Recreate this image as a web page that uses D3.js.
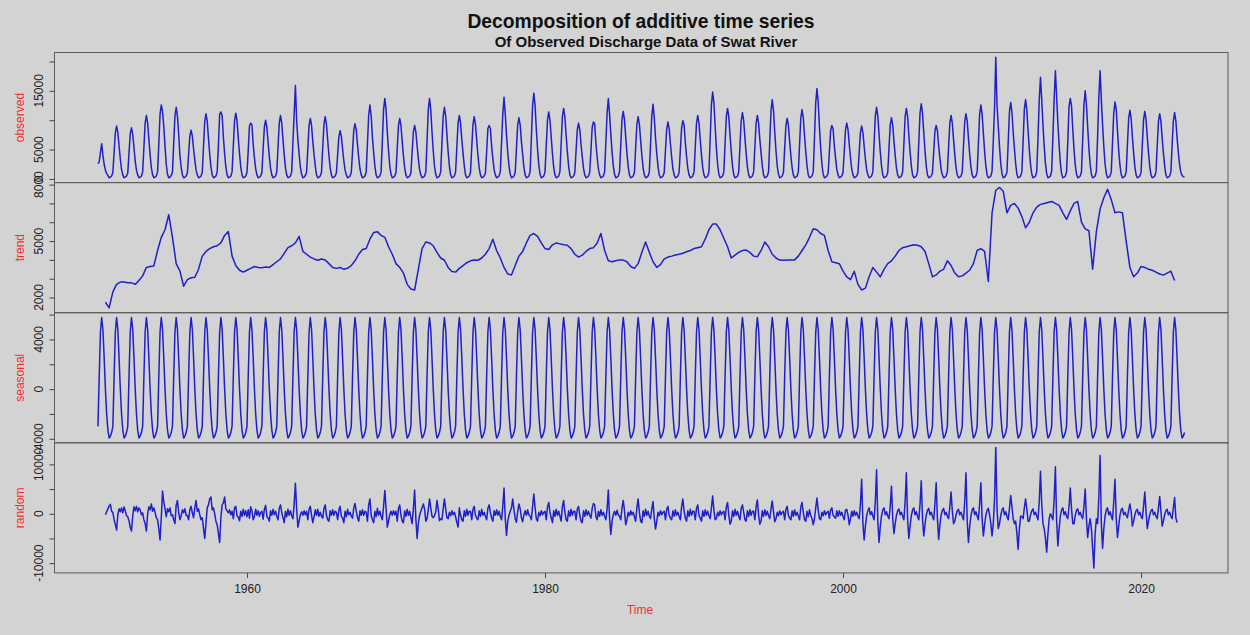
<!DOCTYPE html>
<html>
<head>
<meta charset="utf-8">
<script src="https://cdn.jsdelivr.net/npm/d3@7"></script>
<style>
body { margin: 0; background: #d3d3d3; }
svg { display: block; font-family: "Liberation Sans", Arial, sans-serif; }
</style>
</head>
<body>
<svg id="chart" width="1250" height="635"></svg>
<script>
// monthly series, start 1950, frequency 12
var startYear = 1950;
var panelNames = ["observed", "trend", "seasonal", "random"];

// seasonal figure (one cycle, repeats every year)
var seasonalFigure = [-3000, 1000, 4600, 5765, 4800, 2500, 0, -2000, -3300, -3935, -3800, -3500];

// observed discharge, one row per year, values in hundreds
var observedHundreds = [
  [26,29,45,60,40,25,15,9,6,2,3,5],
  [11,45,79,90,79,56,34,16,7,2,3,5],
  [10,44,77,87,76,54,30,15,7,2,3,5],
  [12,54,95,108,95,67,41,19,7,2,3,5],
  [12,60,110,126,115,90,55,25,8,2,3,6],
  [12,61,107,122,107,76,40,20,7,2,3,5],
  [10,42,73,83,73,51,32,15,7,2,3,5],
  [11,56,98,111,98,69,42,20,7,2,3,5],
  [12,57,110,114,108,71,43,20,7,2,3,5],
  [12,56,99,112,99,69,43,20,7,2,3,5],
  [11,48,90,95,92,59,36,17,7,2,3,5],
  [11,50,88,100,88,62,38,18,7,2,3,5],
  [12,54,95,108,95,67,41,19,7,2,3,5],
  [12,62,110,159,100,66,42,20,8,2,3,6],
  [11,52,91,103,91,64,42,22,7,2,3,5],
  [11,53,93,106,93,66,40,19,7,2,3,5],
  [10,41,72,82,72,51,31,15,7,2,3,5],
  [11,47,83,94,83,58,36,17,7,2,3,5],
  [12,60,108,126,108,72,45,22,7,2,3,5],
  [12,64,118,137,118,80,48,22,8,2,3,5],
  [11,52,91,103,91,64,39,19,7,2,3,5],
  [10,46,80,91,80,56,35,16,7,2,3,5],
  [12,64,118,137,118,80,48,22,8,2,3,5],
  [12,61,107,122,107,76,46,22,7,2,3,5],
  [12,54,95,108,95,67,44,22,7,2,3,5],
  [11,53,93,106,93,66,40,19,7,2,3,5],
  [10,46,86,91,86,56,35,16,7,2,3,5],
  [12,62,110,139,110,75,45,22,8,2,3,5],
  [11,52,92,104,92,64,42,20,7,2,3,5],
  [12,68,125,146,125,85,50,24,8,2,3,5],
  [12,57,100,114,100,71,43,20,7,2,3,5],
  [12,60,106,120,106,74,46,22,7,2,3,5],
  [11,48,84,95,84,59,38,18,7,2,3,5],
  [11,49,88,97,94,60,37,17,7,2,3,5],
  [12,62,112,137,110,76,46,22,8,2,3,5],
  [12,58,101,115,101,71,44,21,7,2,3,5],
  [11,53,93,106,93,66,40,19,7,2,3,5],
  [12,60,108,127,104,70,43,21,7,2,3,5],
  [11,49,85,97,85,60,37,17,7,2,3,5],
  [11,50,87,99,92,62,38,18,7,2,3,5],
  [12,54,95,108,95,67,41,19,7,2,3,5],
  [12,68,126,148,130,90,52,25,8,2,3,5],
  [12,60,106,120,106,74,46,22,7,2,3,5],
  [12,57,99,113,99,70,43,20,7,2,3,5],
  [12,54,95,108,95,67,44,22,7,2,3,5],
  [12,64,116,135,116,80,48,22,8,2,3,5],
  [11,52,91,103,91,64,39,19,7,2,3,5],
  [12,59,104,118,104,73,46,22,7,2,3,5],
  [12,70,130,154,130,88,52,25,8,2,3,5],
  [10,46,82,91,85,56,35,16,7,2,3,5],
  [11,48,84,95,84,59,36,17,7,2,3,5],
  [10,45,79,90,79,56,34,16,7,2,3,5],
  [12,61,107,122,107,76,46,22,7,2,3,5],
  [11,52,92,104,92,64,40,19,7,2,3,5],
  [12,60,106,120,106,74,46,22,7,2,3,5],
  [12,62,112,128,112,79,48,22,7,2,3,5],
  [10,46,82,91,82,56,35,16,7,2,3,5],
  [12,54,95,108,95,67,41,19,7,2,3,5],
  [12,56,98,111,98,69,42,20,7,2,3,5],
  [12,60,110,126,110,78,47,22,7,2,3,5],
  [13,65,120,207,125,90,55,26,9,2,3,6],
  [12,62,114,130,114,80,52,26,8,2,3,5],
  [12,64,118,135,118,82,50,24,8,2,3,5],
  [13,70,135,173,135,92,55,26,9,2,3,5],
  [13,72,136,184,140,95,58,27,9,2,3,5],
  [12,64,124,137,124,85,50,24,8,2,3,5],
  [12,68,126,150,126,88,52,25,8,2,3,5],
  [13,72,140,184,135,92,55,26,9,2,3,5],
  [12,62,112,131,118,82,48,23,8,2,3,5],
  [12,58,103,117,103,72,44,21,7,2,3,5],
  [12,58,101,115,101,71,44,21,7,2,3,5],
  [12,56,98,111,98,69,44,22,7,2,3,5],
  [12,57,99,113,99,70,45,25,12,6,4,3]
];

// trend, every 3 months from 1950.5
var trendStart = 1950.5;
var trendQuarterly = [
  1750, 1450,
  2300, 2700, 2820, 2830,  2790, 2780, 2700, 2900,  3150, 3600, 3650, 3680,
  4500, 5200, 5600, 6400,  5200, 3800, 3400, 2600,  2950, 3050, 3080, 3500,
  4200, 4450, 4600, 4700,  4750, 4900, 5300, 5500,  4200, 3700, 3450, 3350,
  3450, 3550, 3650, 3600,  3580, 3620, 3600, 3750,  3900, 4050, 4350, 4650,
  4750, 4900, 5250, 4450,  4300, 4150, 4050, 3980,  4050, 3990, 3800, 3600,
  3550, 3600, 3500, 3560,  3700, 3950, 4300, 4550,  4600, 5100, 5450, 5500,
  5300, 5200, 4700, 4300,  3800, 3600, 3300, 2700,  2450, 2400, 3500, 4600,
  4950, 4900, 4750, 4400,  4100, 3980, 3600, 3380,  3350, 3550, 3700, 3850,
  3950, 3990, 3980, 4100,  4300, 4600, 5100, 4500,  4100, 3600, 3250, 3200,
  3700, 4200, 4450, 4900,  5300, 5400, 5250, 4900,  4600, 4550, 4800, 4900,
  4850, 4800, 4780, 4600,  4300, 4150, 4250, 4450,  4600, 4650, 4900, 5400,
  4500, 3950, 3900, 3950,  4000, 3990, 3900, 3650,  3550, 3800, 4400, 4950,
  4400, 3900, 3600, 3750,  4050, 4150, 4200, 4260,  4300, 4350, 4430, 4500,
  4600, 4650, 4700, 5100,  5600, 5900, 5900, 5600,  5150, 4700, 4100, 4250,
  4400, 4500, 4520, 4400,  4200, 4170, 4500, 4950,  4700, 4300, 4100, 3990,
  3980, 4000, 3990, 4000,  4200, 4500, 4800, 5200,  5650, 5600, 5400, 5300,
  4500, 3900, 3850, 3800,  3400, 3100, 2950, 3400,  2700, 2400, 2500, 3100,
  3600, 3350, 3100, 3500,  3800, 3950, 4200, 4500,  4650, 4700, 4750, 4800,
  4780, 4700, 4450, 3800,  3100, 3200, 3400, 3500,  3950, 3700, 3300, 3100,
  3150, 3300, 3450, 3800,  4500, 4600, 4450, 2850,  6500, 7700, 7850, 7650,
  6500, 6900, 7000, 6750,  6300, 5700, 6000, 6500,  6800, 6950, 7000, 7050,
  7100, 7000, 6900, 6500,  6150, 6600, 7000, 7100,  6000, 5650, 5550, 3500,
  5500, 6700, 7300, 7750,  7200, 6500, 6550, 6500,  5000, 3600, 3100, 3300,
  3650, 3600, 3500, 3450,  3350, 3250, 3190, 3300,  3400, 2900
];

// remainder, one row per year (first row starts in month 7), values in hundreds
var randomHundreds = [
  [-2,4,10,16,19,5],
  [3,-12,-22,-33,-2,10,4,12,2,14,6,-4],
  [-6,-14,-28,-35,-4,14,6,15,4,12,8,-2],
  [2,-12,-20,-35,0,14,8,20,5,12,3,-8],
  [-12,-30,-53,-8,46,24,10,-6,10,4,12,-4],
  [-2,-12,-20,18,27,3,-12,-4,8,2,10,-3],
  [-4,-12,8,15,2,-8,12,27,5,10,-2,-12],
  [-8,-30,-50,-18,12,18,30,34,8,12,0,-15],
  [-22,-40,-58,-8,18,22,34,10,6,2,8,-2],
  [5,-10,12,15,-4,-7,-14,5,-5,9,-3,6],
  [-6,8,-9,14,6,-12,-5,9,-3,6,-5,3],
  [5,-11,9,17,-5,-9,-15,6,-3,9,-2,5],
  [-5,-12,11,18,3,-8,-18,5,-6,9,-3,6],
  [-4,-10,20,62,10,-27,-15,-2,4,-3,6,-2],
  [5,-12,9,15,-3,-18,-6,8,-3,9,-5,3],
  [-5,-9,11,18,-3,-12,-15,6,-3,8,-3,5],
  [3,-12,8,15,-5,-9,-18,5,-6,9,-2,3],
  [-5,-9,12,21,5,-8,-15,6,-3,8,-3,5],
  [3,-15,18,30,-3,-12,-18,5,-6,11,-3,5],
  [-5,-12,15,47,12,-27,-15,-2,5,-3,6,-2],
  [5,-15,11,18,-3,-15,-18,6,-5,9,-3,5],
  [-8,-20,10,48,-10,-50,-20,-3,5,12,20,10],
  [-15,-10,8,30,12,-5,-8,-4,4,27,10,-14],
  [-10,-12,10,30,10,-8,-10,3,-4,6,-2,3],
  [-6,-18,-27,12,-3,-12,-15,6,-5,9,-3,5],
  [5,-12,9,15,-3,-9,-12,6,-5,9,-3,3],
  [-5,-12,11,18,3,-8,-15,6,-3,8,-3,5],
  [-5,-12,15,52,-10,-44,-15,-3,5,12,30,8],
  [-10,-17,5,20,10,-8,-16,-2,6,-3,8,-2],
  [-5,-12,15,40,12,-10,-15,3,-4,6,-2,3],
  [5,-12,14,23,3,-8,-18,6,-5,9,-3,5],
  [-5,-15,15,27,3,-12,-15,6,-5,9,-3,5],
  [5,-12,9,15,-3,-15,-18,6,-5,8,-3,5],
  [-3,-9,11,21,18,-6,-12,5,-5,8,-3,3],
  [-5,-12,10,48,-10,-42,-15,-2,5,-3,7,-2],
  [-5,-12,12,27,6,-22,-12,3,-4,6,-2,3],
  [-6,-15,12,30,3,-15,-18,6,-5,9,-3,5],
  [-5,-10,10,25,-10,-31,-15,3,-4,6,-2,3],
  [5,-12,9,15,-3,-9,-12,6,-5,8,-3,3],
  [-5,-12,14,30,6,-9,-15,6,-5,9,-3,5],
  [5,-12,11,18,-3,-9,-15,6,-5,8,-3,5],
  [-4,-10,12,36,8,-12,-10,3,-4,6,-2,3],
  [5,-12,14,23,-3,-21,-15,6,-5,9,-3,5],
  [-5,-12,11,18,3,-12,-15,6,-5,8,-3,5],
  [5,-12,14,28,-3,-21,-15,6,-5,8,-3,5],
  [-4,-10,10,26,4,-16,-10,3,-4,6,-2,3],
  [5,-12,9,15,-3,-9,-12,6,-5,8,-3,3],
  [-5,-12,14,23,3,-12,-15,5,-6,8,-3,-10],
  [-22,-10,12,32,8,-10,-12,3,-4,6,-2,3],
  [5,-9,8,12,-3,-6,-9,6,-5,6,-3,3],
  [-6,-12,8,9,-3,-22,-10,5,-5,6,-3,3],
  [-5,-10,20,70,-20,-53,-25,-4,6,12,-2,4],
  [-5,-12,25,89,-15,-58,-25,-4,8,12,-2,4],
  [-5,-10,15,56,-10,-40,-20,-3,6,10,-2,3],
  [-5,-12,25,83,-12,-50,-25,-4,8,12,-2,4],
  [-5,-12,20,67,-10,-45,-22,-3,7,11,-2,3],
  [-5,-12,20,63,-10,-52,-22,-3,7,11,-2,3],
  [-5,-10,15,44,5,-20,-15,-2,6,9,-2,3],
  [-5,-12,25,83,-15,-58,-25,-4,8,12,-2,4],
  [-5,-12,20,63,-10,-45,-22,-3,7,11,-2,-20],
  [-45,-20,30,134,10,-30,-20,-4,8,12,-2,4],
  [-5,-12,10,37,15,-10,-20,-15,-40,-72,-30,-5],
  [-5,-10,12,30,10,-15,-15,-2,6,10,-2,3],
  [-5,-12,25,86,20,-20,-30,-50,-78,-40,-10,0],
  [-5,-12,30,95,-15,-65,-30,-5,8,12,-2,4],
  [-5,-10,15,52,10,-20,-20,-3,7,10,-2,3],
  [-5,-10,15,50,-10,-48,-25,-10,-30,-70,-110,-40],
  [-10,-20,35,118,-20,-70,-30,-5,8,12,-2,4],
  [-5,-12,25,70,-10,-48,-25,-3,8,11,-2,3],
  [-3,-8,8,20,5,-25,-15,-2,6,9,-2,3],
  [-5,-10,15,44,5,-30,-15,-2,6,9,-2,3],
  [-5,-10,12,35,5,-25,-15,-2,6,9,-2,3],
  [-5,-10,12,33,-8,-18]
];

// ---- build the series (t = decimal year) ----
var observed = d3.merge(observedHundreds).map(function(v, i) {
  return {t: startYear + i / 12, v: v * 100};
});
var nMonths = observed.length;
var seasonal = d3.range(nMonths).map(function(i) {
  return {t: startYear + i / 12, v: seasonalFigure[i % 12]};
});
var trend = trendQuarterly.map(function(v, i) {
  return {t: trendStart + i / 4, v: v};
});
var random = d3.merge(randomHundreds).map(function(v, i) {
  return {t: startYear + (i + 6) / 12, v: v * 100};
});
var series = [observed, trend, seasonal, random];

// ---- layout ----
var plotLeft = 54.5, plotRight = 1228, plotTop = 52.5, panelH = 130.1;
var svg = d3.select("#chart");

svg.append("rect")
  .attr("width", 1250).attr("height", 635)
  .attr("fill", "#d3d3d3");

// R style range: data extent padded by 4%
function padded(ext) {
  var d = (ext[1] - ext[0]) * 0.04;
  return [ext[0] - d, ext[1] + d];
}

var x = d3.scaleLinear()
  .domain(padded([startYear, startYear + (nMonths - 1) / 12]))
  .range([plotLeft, plotRight]);

var line = d3.line()
  .x(function(d) { return x(d.t); });

series.forEach(function(data, k) {
  var y0 = plotTop + k * panelH;
  var y = d3.scaleLinear()
    .domain(padded(d3.extent(data, function(d) { return d.v; })))
    .range([y0 + panelH, y0]);

  var g = svg.append("g");

  g.append("path")
    .datum(data)
    .attr("fill", "none")
    .attr("stroke", "#2020c8")
    .attr("stroke-width", 1.5)
    .attr("stroke-linejoin", "round")
    .attr("d", line.y(function(d) { return y(d.v); }));

  g.append("rect")
    .attr("x", plotLeft).attr("y", y0)
    .attr("width", plotRight - plotLeft).attr("height", panelH)
    .attr("fill", "none")
    .attr("stroke", "#5c5c5c")
    .attr("stroke-width", 1);

  // ticks
  var ticks = y.ticks(5);
  var axis = d3.axisLeft(y).tickValues(ticks).tickSize(5).tickFormat("");
  var ag = g.append("g")
    .attr("transform", "translate(" + plotLeft + ",0)")
    .call(axis);
  ag.select(".domain").remove();
  ag.selectAll(".tick line").attr("stroke", "#444");

  // labels, dropped where they would overlap (as R does)
  var lastTop = Infinity;
  ticks.forEach(function(v) {
    var ty = y(v);
    var txt = g.append("text")
      .attr("transform", "translate(43," + ty + ") rotate(-90)")
      .attr("text-anchor", "middle")
      .attr("font-size", 12)
      .attr("fill", "#222")
      .text(String(v));
    var w = txt.node().getComputedTextLength();
    if (ty + w / 2 > lastTop - 11.5) {
      txt.remove();
    } else {
      lastTop = ty - w / 2;
    }
  });

  // panel title
  g.append("text")
    .attr("transform", "translate(23.5," + (y0 + panelH / 2) + ") rotate(-90)")
    .attr("text-anchor", "middle")
    .attr("font-size", 12)
    .attr("fill", "#ee3030")
    .text(panelNames[k]);
});

// x axis
var plotBottom = plotTop + 4 * panelH;
var xAxis = d3.axisBottom(x).ticks(5).tickSize(5).tickFormat(d3.format("d"));
var xg = svg.append("g")
  .attr("transform", "translate(0," + plotBottom + ")")
  .call(xAxis);
xg.select(".domain").remove();
xg.selectAll(".tick line").attr("stroke", "#444");
xg.selectAll(".tick text")
  .attr("y", 20).attr("dy", null)
  .attr("font-size", 12)
  .attr("font-family", "Liberation Sans, Arial, sans-serif")
  .attr("fill", "#222");

svg.append("text")
  .attr("x", 640).attr("y", 614)
  .attr("text-anchor", "middle")
  .attr("font-size", 12)
  .attr("fill", "#ee3030")
  .text("Time");

// titles
svg.append("text")
  .attr("x", 641).attr("y", 28)
  .attr("text-anchor", "middle")
  .attr("font-size", 19.3)
  .attr("font-weight", "bold")
  .attr("fill", "#111")
  .text("Decomposition of additive time series");

svg.append("text")
  .attr("x", 646).attr("y", 47)
  .attr("text-anchor", "middle")
  .attr("font-size", 15)
  .attr("font-weight", "bold")
  .attr("fill", "#111")
  .text("Of Observed Discharge Data of Swat River");
</script>
</body>
</html>
